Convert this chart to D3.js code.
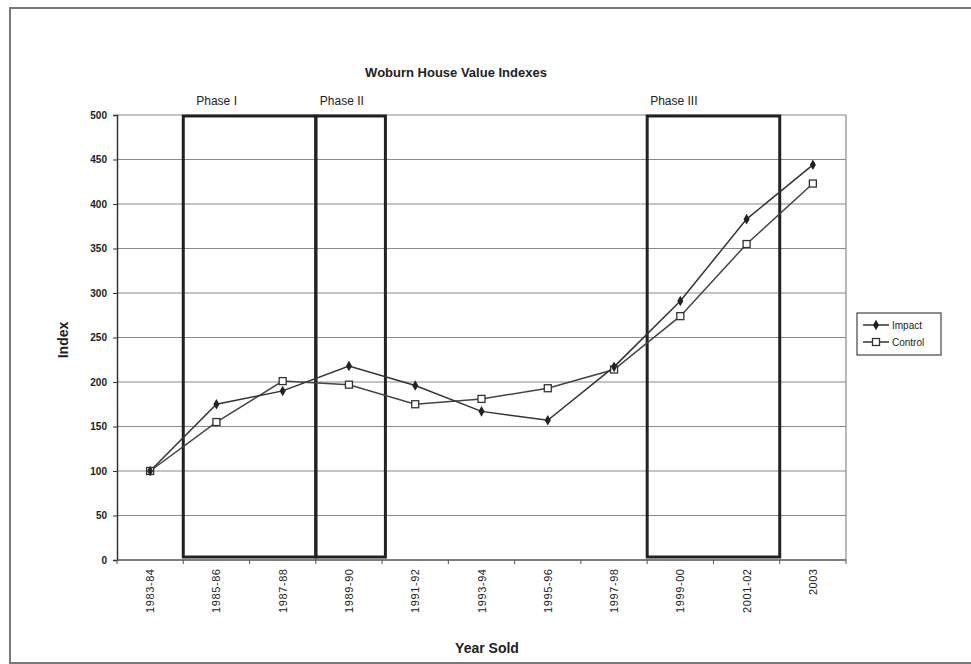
<!DOCTYPE html>
<html>
<head>
<meta charset="utf-8">
<script src="https://cdn.jsdelivr.net/npm/d3@7"></script>
<style>
  body { margin: 0; background: #fff; }
  text { font-family: "Liberation Sans", Arial, sans-serif; fill: #222; }
</style>
</head>
<body>
<svg id="chart" width="971" height="664"></svg>
<script>
'use strict';

// data
var years = ['1983-84', '1985-86', '1987-88', '1989-90', '1991-92', '1993-94',
  '1995-96', '1997-98', '1999-00', '2001-02', '2003'];
var impact = [100, 175, 190, 218, 196, 167, 157, 217, 291, 383, 444];
var control = [100, 155, 201, 197, 175, 181, 193, 214, 274, 355, 423];
var yTicks = [0, 50, 100, 150, 200, 250, 300, 350, 400, 450, 500];
// phase boxes, given as category boundaries (start index, end index)
var phaseNames = ['Phase I', 'Phase II', 'Phase III'];
var phaseStart = [1, 3, 8];
var phaseEnd = [3, 4.05, 10];

var svg = d3.select('#chart');

// outer frame of the scanned figure
svg.append('rect')
  .attr('x', 10).attr('y', 8)
  .attr('width', 990).attr('height', 655)
  .attr('fill', 'none').attr('stroke', '#7a7a7a').attr('stroke-width', 2);

var plotLeft = 117, plotRight = 846, plotTop = 115, plotBottom = 560;

var x = d3.scaleBand().domain(years).range([plotLeft, plotRight]).padding(0);
var y = d3.scaleLinear().domain([0, 500]).range([plotBottom, plotTop]);
var bw = x.bandwidth();
function edge(i) { return plotLeft + i * bw; }

// gridlines
svg.append('g').selectAll('line')
  .data(yTicks.slice(1))
  .enter().append('line')
  .attr('x1', plotLeft).attr('x2', plotRight)
  .attr('y1', function(d) { return y(d); })
  .attr('y2', function(d) { return y(d); })
  .attr('stroke', '#8a8a8a').attr('stroke-width', 1.2);

// right border of plot area
svg.append('line')
  .attr('x1', plotRight).attr('x2', plotRight).attr('y1', plotTop).attr('y2', plotBottom)
  .attr('stroke', '#8a8a8a').attr('stroke-width', 1.2);

// y axis
var yAxis = d3.axisLeft(y).tickValues(yTicks).tickSize(4).tickPadding(6);
var gy = svg.append('g').attr('transform', 'translate(' + plotLeft + ',0)').call(yAxis);
gy.select('.domain').attr('stroke', '#333').attr('stroke-width', 1.5);
gy.selectAll('.tick line').attr('stroke', '#333');
gy.selectAll('text').style('font-size', '10px').style('font-weight', 'bold').attr('fill', '#333');

// x axis, ticks between categories
var gx = svg.append('g').attr('transform', 'translate(0,' + plotBottom + ')');
gx.append('line').attr('x1', plotLeft).attr('x2', plotRight)
  .attr('stroke', '#555').attr('stroke-width', 1.5);
gx.selectAll('.tk').data(d3.range(years.length + 1))
  .enter().append('line')
  .attr('x1', function(i) { return edge(i); })
  .attr('x2', function(i) { return edge(i); })
  .attr('y1', 0).attr('y2', 4)
  .attr('stroke', '#555');
gx.selectAll('.lbl').data(years)
  .enter().append('text')
  .attr('transform', function(d) {
    return 'translate(' + (x(d) + bw / 2 + 4) + ',9) rotate(-90)';
  })
  .attr('text-anchor', 'end')
  .style('font-size', '11px')
  .attr('textLength', function(d) { return d.length > 4 ? 44 : 26; })
  .text(function(d) { return d; });

// phase boxes
svg.append('g').selectAll('rect')
  .data(phaseNames)
  .enter().append('rect')
  .attr('x', function(d, i) { return edge(phaseStart[i]); })
  .attr('width', function(d, i) { return edge(phaseEnd[i]) - edge(phaseStart[i]); })
  .attr('y', y(500) + 1)
  .attr('height', y(0) - y(500) - 4)
  .attr('fill', 'none').attr('stroke', '#222').attr('stroke-width', 3);

// phase labels sit near the left edge of each box
var labelInset = [13, 4, 3];
svg.append('g').selectAll('text')
  .data(phaseNames)
  .enter().append('text')
  .attr('x', function(d, i) { return edge(phaseStart[i]) + labelInset[i]; })
  .attr('y', 105)
  .style('font-size', '12px')
  .text(function(d) { return d; });

// lines
var line = d3.line()
  .x(function(d, i) { return x(years[i]) + bw / 2; })
  .y(function(d) { return y(d); });

svg.append('path').datum(control)
  .attr('d', line).attr('fill', 'none')
  .attr('stroke', '#444').attr('stroke-width', 1.5);
svg.append('path').datum(impact)
  .attr('d', line).attr('fill', 'none')
  .attr('stroke', '#333').attr('stroke-width', 1.5);

// markers
svg.append('g').selectAll('rect')
  .data(control)
  .enter().append('rect')
  .attr('x', function(d, i) { return x(years[i]) + bw / 2 - 3.5; })
  .attr('y', function(d) { return y(d) - 3.5; })
  .attr('width', 7).attr('height', 7)
  .attr('fill', '#fff').attr('stroke', '#333').attr('stroke-width', 1.3);

var diamond = d3.symbol().type(d3.symbolDiamond).size(32);
svg.append('g').selectAll('path')
  .data(impact)
  .enter().append('path')
  .attr('d', diamond)
  .attr('transform', function(d, i) {
    return 'translate(' + (x(years[i]) + bw / 2) + ',' + y(d) + ')';
  })
  .attr('fill', '#222');

// title and axis titles
svg.append('text')
  .attr('x', 456).attr('y', 77)
  .attr('text-anchor', 'middle')
  .style('font-size', '13px').style('font-weight', 'bold')
  .text('Woburn House Value Indexes');

svg.append('text')
  .attr('transform', 'translate(68,340) rotate(-90)')
  .attr('text-anchor', 'middle')
  .style('font-size', '14px').style('font-weight', 'bold')
  .text('Index');

svg.append('text')
  .attr('x', 487).attr('y', 653)
  .attr('text-anchor', 'middle')
  .style('font-size', '14px').style('font-weight', 'bold')
  .text('Year Sold');

// legend
var lg = svg.append('g').attr('transform', 'translate(857,313)');
lg.append('rect').attr('width', 84).attr('height', 42)
  .attr('fill', '#fff').attr('stroke', '#444').attr('stroke-width', 1.2);
var entries = ['Impact', 'Control'];
entries.forEach(function(name, i) {
  var cy = 12 + i * 17;
  lg.append('line').attr('x1', 6).attr('x2', 32).attr('y1', cy).attr('y2', cy)
    .attr('stroke', '#333').attr('stroke-width', 1.5);
  if (i === 0) {
    lg.append('path').attr('d', diamond).attr('transform', 'translate(19,' + cy + ')')
      .attr('fill', '#222');
  } else {
    lg.append('rect').attr('x', 15.5).attr('y', cy - 3.5).attr('width', 7).attr('height', 7)
      .attr('fill', '#fff').attr('stroke', '#333').attr('stroke-width', 1.3);
  }
  lg.append('text').attr('x', 35).attr('y', cy + 4)
    .style('font-size', '10px')
    .text(name);
});
</script>
</body>
</html>
